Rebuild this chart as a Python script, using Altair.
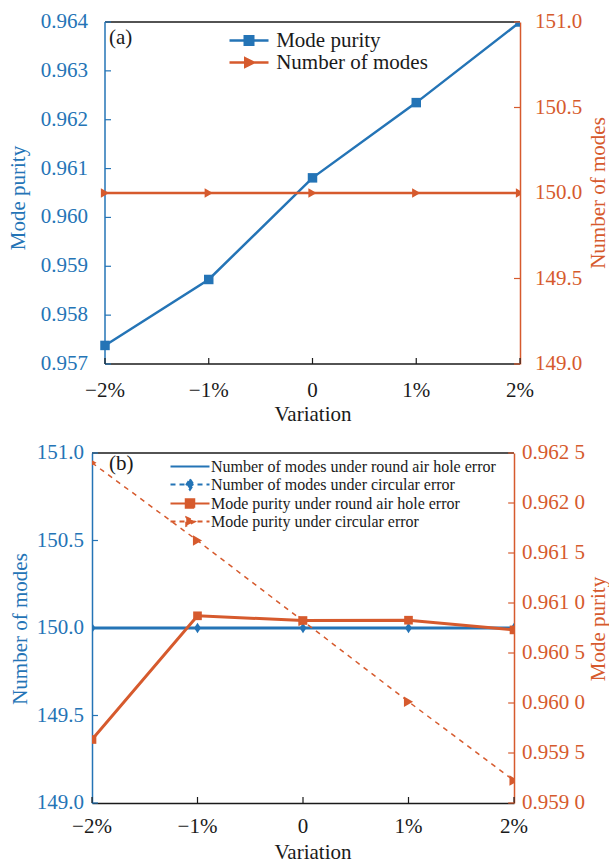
import altair as alt
import pandas as pd

FONT = "Liberation Serif"
BLUE = "#2474B6"
ORANGE = "#D65A2D"
BLACK = "#1a1a1a"
FS = 21

# ---------------- data ----------------
x_vals = [-2, -1, 0, 1, 2]
x_labels = ["\u22122%", "\u22121%", "0", "1%", "2%"]

# panel (a)
a_series = ["Mode purity", "Number of modes"]
a_purity = [0.95738, 0.95873, 0.96081, 0.96235, 0.96400]
a_modes = [150, 150, 150, 150, 150]
a_left_ticks = [0.957, 0.958, 0.959, 0.960, 0.961, 0.962, 0.963, 0.964]
a_left_labels = ["0.957", "0.958", "0.959", "0.960", "0.961", "0.962", "0.963", "0.964"]
a_right_ticks = [149.0, 149.5, 150.0, 150.5, 151.0]
a_right_labels = ["149.0", "149.5", "150.0", "150.5", "151.0"]

# panel (b)
b_series = [
    "Number of modes under round air hole error",
    "Number of modes under circular error",
    "Mode purity under round air hole error",
    "Mode purity under circular error",
]
b_modes_round = [150, 150, 150, 150, 150]
b_modes_circ = [150, 150, 150, 150, 150]
b_pur_round = [0.959635, 0.960872, 0.960825, 0.960828, 0.960731]
b_pur_circ = [0.962402, 0.961624, 0.960820, 0.960013, 0.959224]
b_left_ticks = [149.0, 149.5, 150.0, 150.5, 151.0]
b_left_labels = ["149.0", "149.5", "150.0", "150.5", "151.0"]
b_right_ticks = [0.9590, 0.9595, 0.9600, 0.9605, 0.9610, 0.9615, 0.9620, 0.9625]
b_right_labels = ["0.959 0", "0.959 5", "0.960 0", "0.960 5", "0.961 0", "0.961 5", "0.962 0", "0.962 5"]

# layout (pixels)
A_OFF, A_G, A_H = 13, 428, 342     # panel a: plot spans x = A_OFF..A_G inside its group
B_OFF, B_G, B_H = 0, 422, 350
TICK = 6


def xscale(off, g):
    return alt.Scale(domain=[x_vals[0], x_vals[-1]], range=[off, g], nice=False, zero=False)


NO_AX = alt.Axis(labels=False, ticks=False, title=None, grid=False, domain=False)


def dom_axis(orient, color):
    return alt.Axis(orient=orient, labels=False, ticks=False, title=None, grid=False,
                    domainColor=color, domainWidth=1.5)


def rule(color, **pos):
    return alt.Chart(pd.DataFrame({"k": [0]})).mark_rule(color=color, strokeWidth=1.5).encode(
        **{k: alt.value(v) for k, v in pos.items()})


def yticks(vals, scale, axis, color, x0, x1):
    df = pd.DataFrame({"t": vals})
    return alt.Chart(df).mark_rule(color=color, strokeWidth=1.2).encode(
        y=alt.Y("t:Q", scale=scale, axis=axis), x=alt.value(x0), x2=alt.value(x1))


def xticks(X, H):
    df = pd.DataFrame({"x": x_vals})
    return alt.Chart(df).mark_rule(color=BLACK, strokeWidth=1.2).encode(
        x=X("x"), y=alt.value(H - TICK), y2=alt.value(H))


def ylabels(vals, labels, scale, axis, color, xpos, align):
    df = pd.DataFrame({"t": vals, "lab": labels})
    return alt.Chart(df).mark_text(font=FONT, fontSize=FS, color=color, align=align,
                                   baseline="middle").encode(
        y=alt.Y("t:Q", scale=scale, axis=axis), x=alt.value(xpos), text="lab:N")


def xlabels(X, ypos):
    df = pd.DataFrame({"x": x_vals, "lab": x_labels})
    return alt.Chart(df).mark_text(font=FONT, fontSize=FS, color=BLACK, align="center",
                                   baseline="alphabetic").encode(
        x=X("x"), y=alt.value(ypos), text="lab:N")


def text(txt, color, xpos, ypos, angle=0, align="center"):
    return alt.Chart(pd.DataFrame({"lab": [txt]})).mark_text(
        font=FONT, fontSize=FS, color=color, align=align, baseline="alphabetic", angle=angle
    ).encode(x=alt.value(xpos), y=alt.value(ypos), text="lab:N")


def line_marker(shape):
    return "M-3.9,0H3.9" + ("M" + shape if shape else "")


SQ = "-0.85,-0.85H0.85V0.85H-0.85Z"
TR = "-0.75,-0.85L0.95,0L-0.75,0.85Z"
DI = "0,-1.05L0.7,0L0,1.05L-0.7,0Z"

# ---------------- panel (a) ----------------
xs_a = xscale(A_OFF, A_G)


def Xa(f):
    return alt.X(f + ":Q", scale=xs_a, axis=NO_AX)


df_a = pd.DataFrame({"x": x_vals, "purity": a_purity, "modes": a_modes})
ya_l = alt.Scale(domain=[a_left_ticks[0], a_left_ticks[-1]], nice=False, zero=False)
ya_r = alt.Scale(domain=[a_right_ticks[0], a_right_ticks[-1]], nice=False, zero=False)
ax_ar = dom_axis("right", ORANGE)

leg_a = alt.Legend(title=None, orient="none", legendX=146.5, legendY=8,
                   labelFont=FONT, labelFontSize=FS, labelColor=BLACK, labelLimit=600,
                   symbolSize=100, symbolStrokeWidth=2.5, labelOffset=16.7,
                   rowPadding=0, padding=0, symbolOpacity=1)
df_leg_a = pd.DataFrame({"series": a_series, "x": [0, 0], "v": [0.96, 0.96]})
legend_a = alt.Chart(df_leg_a).mark_point(filled=True, opacity=1).encode(
    x=Xa("x"),
    y=alt.Y("v:Q", scale=ya_l, axis=NO_AX),
    fill=alt.Fill("series:N", scale=alt.Scale(domain=a_series, range=[BLUE, ORANGE]), legend=leg_a),
    stroke=alt.Stroke("series:N", scale=alt.Scale(domain=a_series, range=[BLUE, ORANGE]), legend=leg_a),
    shape=alt.Shape("series:N", scale=alt.Scale(domain=a_series, range=[line_marker(SQ), line_marker(TR)]), legend=leg_a),
).transform_filter("false")

left_a = alt.layer(
    rule(BLACK, x=A_OFF, x2=A_G, y=0),
    rule(BLACK, x=A_OFF, x2=A_G, y=A_H),
    rule(BLUE, x=A_OFF, y=0, y2=A_H),
    alt.Chart(df_a).mark_line(color=BLUE, strokeWidth=2.5, clip=True).encode(
        x=Xa("x"), y=alt.Y("purity:Q", scale=ya_l, axis=NO_AX)),
    alt.Chart(df_a).mark_point(shape="square", filled=True, size=90, color=BLUE, opacity=1, clip=True).encode(
        x=Xa("x"), y=alt.Y("purity:Q", scale=ya_l, axis=NO_AX)),
    yticks(a_left_ticks, ya_l, NO_AX, BLUE, A_OFF, A_OFF + TICK),
    xticks(Xa, A_H),
    ylabels(a_left_ticks, a_left_labels, ya_l, NO_AX, BLUE, A_OFF - 17, "right"),
    xlabels(Xa, A_H + 33),
    text("Variation", BLACK, 221, A_H + 57),
    text("Mode purity", BLUE, -67, A_H / 2 + 5, angle=270),
    text("(a)", BLACK, A_OFF + 4, 22, align="left"),
    legend_a,
)
right_a = alt.layer(
    alt.Chart(df_a).mark_line(color=ORANGE, strokeWidth=2.5, clip=True).encode(
        x=Xa("x"), y=alt.Y("modes:Q", scale=ya_r, axis=ax_ar)),
    alt.Chart(df_a).mark_point(shape="triangle-right", filled=True, size=90, color=ORANGE, opacity=1, clip=True).encode(
        x=Xa("x"), y=alt.Y("modes:Q", scale=ya_r, axis=ax_ar)),
    yticks(a_right_ticks, ya_r, ax_ar, ORANGE, A_G - TICK, A_G),
    ylabels(a_right_ticks, a_right_labels, ya_r, ax_ar, ORANGE, A_G + 15, "left"),
    text("Number of modes", ORANGE, A_G + 85, A_H / 2, angle=270),
)
chart_a = alt.layer(left_a, right_a).resolve_scale(y="independent").properties(width=A_G, height=A_H)

# ---------------- panel (b) ----------------
xs_b = xscale(B_OFF, B_G)


def Xb(f):
    return alt.X(f + ":Q", scale=xs_b, axis=dom_axis("bottom", BLACK))


df_b = pd.DataFrame({"x": x_vals, "mr": b_modes_round, "mc": b_modes_circ,
                     "pr": b_pur_round, "pc": b_pur_circ})
yb_l = alt.Scale(domain=[b_left_ticks[0], b_left_ticks[-1]], nice=False, zero=False)
yb_r = alt.Scale(domain=[b_right_ticks[0], b_right_ticks[-1]], nice=False, zero=False)
ax_bl = dom_axis("left", BLUE)
ax_br = dom_axis("right", ORANGE)

leg_b = alt.Legend(title=None, orient="none", legendX=90, legendY=5.5,
                   labelFont=FONT, labelFontSize=16, labelColor=BLACK, labelLimit=600,
                   symbolSize=100, symbolStrokeWidth=2, labelOffset=13,
                   rowPadding=0, padding=0, symbolOpacity=1)
b_colors = [BLUE, BLUE, ORANGE, ORANGE]
df_leg_b = pd.DataFrame({"series": b_series, "x": [0] * 4, "v": [150] * 4})
legend_b = alt.Chart(df_leg_b).mark_point(filled=True, opacity=1).encode(
    x=Xb("x"),
    y=alt.Y("v:Q", scale=yb_l, axis=ax_bl),
    fill=alt.Fill("series:N", scale=alt.Scale(domain=b_series, range=b_colors), legend=leg_b),
    stroke=alt.Stroke("series:N", scale=alt.Scale(domain=b_series, range=b_colors), legend=leg_b),
    shape=alt.Shape("series:N", scale=alt.Scale(domain=b_series, range=[
        line_marker(None), line_marker(DI), line_marker(SQ), line_marker(TR)]), legend=leg_b),
    strokeDash=alt.StrokeDash("series:N", scale=alt.Scale(domain=b_series, range=[
        [1, 0], [5, 4], [1, 0], [5, 4]]), legend=leg_b),
).transform_filter("false")

left_b = alt.layer(
    rule(BLACK, x=0, x2=B_G, y=0),
    alt.Chart(df_b).mark_line(color=BLUE, strokeWidth=1.5, strokeDash=[6, 4], clip=True).encode(
        x=Xb("x"), y=alt.Y("mc:Q", scale=yb_l, axis=ax_bl)),
    alt.Chart(df_b).mark_line(color=BLUE, strokeWidth=3, clip=True).encode(
        x=Xb("x"), y=alt.Y("mr:Q", scale=yb_l, axis=ax_bl)),
    alt.Chart(df_b).mark_point(shape="M0,-1L0.65,0L0,1L-0.65,0Z", filled=True, size=110, color=BLUE,
                               opacity=1, clip=True).encode(
        x=Xb("x"), y=alt.Y("mc:Q", scale=yb_l, axis=ax_bl)),
    yticks(b_left_ticks, yb_l, ax_bl, BLUE, 0, TICK),
    xticks(Xb, B_H),
    ylabels(b_left_ticks, b_left_labels, yb_l, ax_bl, BLUE, -8, "right"),
    xlabels(Xb, B_H + 30),
    text("Variation", BLACK, 221, B_H + 56),
    text("Number of modes", BLUE, -64.7, B_H / 2 + 1, angle=270),
    text("(b)", BLACK, 17, 17, align="left"),
    legend_b,
)
right_b = alt.layer(
    alt.Chart(df_b).mark_line(color=ORANGE, strokeWidth=1.5, strokeDash=[5, 5], clip=True).encode(
        x=Xb("x"), y=alt.Y("pc:Q", scale=yb_r, axis=ax_br)),
    alt.Chart(df_b).mark_point(shape="triangle-right", filled=True, size=110, color=ORANGE,
                               opacity=1, clip=True).encode(
        x=Xb("x"), y=alt.Y("pc:Q", scale=yb_r, axis=ax_br)),
    alt.Chart(df_b).mark_line(color=ORANGE, strokeWidth=3, clip=True).encode(
        x=Xb("x"), y=alt.Y("pr:Q", scale=yb_r, axis=ax_br)),
    alt.Chart(df_b).mark_point(shape="square", filled=True, size=75, color=ORANGE,
                               opacity=1, clip=True).encode(
        x=Xb("x"), y=alt.Y("pr:Q", scale=yb_r, axis=ax_br)),
    yticks(b_right_ticks, yb_r, ax_br, ORANGE, B_G - TICK, B_G),
    ylabels(b_right_ticks, b_right_labels, yb_r, ax_br, ORANGE, B_G + 8, "left"),
    text("Mode purity", ORANGE, B_G + 91, B_H / 2 + 1, angle=270),
)
chart_b = alt.layer(left_b, right_b).resolve_scale(y="independent").properties(width=B_G, height=B_H)

chart = alt.vconcat(chart_a, chart_b, spacing=17).resolve_scale(
    x="independent", fill="independent", stroke="independent", shape="independent",
    strokeDash="independent"
).resolve_legend(
    fill="independent", stroke="independent", shape="independent", strokeDash="independent"
).configure(
    padding={"left": 8, "top": 11, "right": 0, "bottom": 0},
    background="white",
).configure_view(stroke=None)

chart.save("out.html", embed_options={"renderer": "svg", "actions": False})
